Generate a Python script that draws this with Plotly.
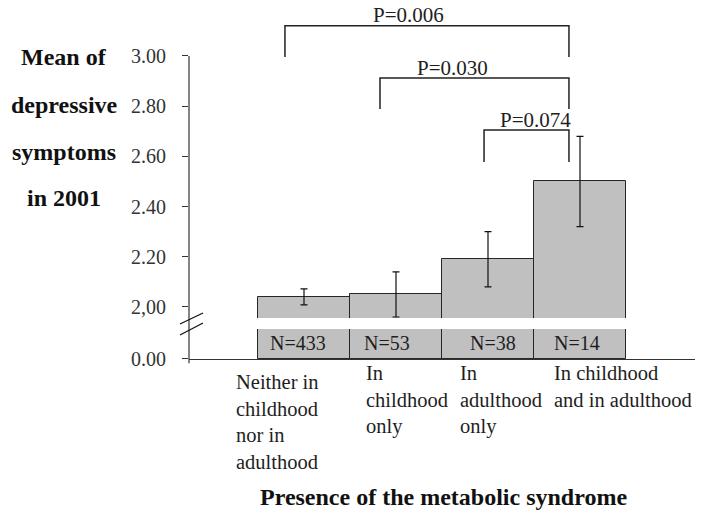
import plotly.graph_objects as go

# ---------------- data ----------------
categories = ["Neither in<br>childhood<br>nor in<br>adulthood",
              "In<br>childhood<br>only",
              "In<br>adulthood<br>only",
              "In childhood<br>and in adulthood"]
means = [2.04, 2.05, 2.19, 2.50]
errors = [0.032, 0.09, 0.11, 0.18]
n_labels = ["N=433", "N=53", "N=38", "N=14"]
tick_vals = [2.0, 2.2, 2.4, 2.6, 2.8, 3.0]
tick_text = ["2,00", "2.20", "2.40", "2.60", "2.80", "3.00"]
# comparisons: (from category, to category, p-value text)
comparisons = [(0, 3, "P=0.006"), (1, 3, "P=0.030"), (2, 3, "P=0.074")]

# ---------------- layout constants ----------------
FONT = "Liberation Serif"
TXT = "#1e1e1e"
BAR_FILL = "#c0c0c0"
BAR_LINE = "#262626"
X_RANGE = [-1.25, 4.25]
UP_RANGE = [1.956, 3.203]
UP_DOMAIN = [0.1158, 1.0]
LOW_RANGE = [0, 1]
LOW_DOMAIN = [0.0, 0.0847]

x = list(range(len(means)))

fig = go.Figure()
# upper panel bars (clipped at broken axis)
fig.add_trace(go.Bar(
    x=x, y=means, width=1.0, xaxis="x", yaxis="y",
    marker=dict(color=BAR_FILL, line=dict(color=BAR_LINE, width=1)),
    error_y=dict(type="data", array=errors, visible=True, color="#111111",
                 thickness=1.2, width=3.5),
    showlegend=False, hoverinfo="skip"))
# lower panel bars (stubs)
fig.add_trace(go.Bar(
    x=x, y=means, width=1.0, xaxis="x2", yaxis="y2",
    marker=dict(color=BAR_FILL, line=dict(color=BAR_LINE, width=1)),
    showlegend=False, hoverinfo="skip"))

shapes = []
annotations = []

def up_to_paper(v):
    return UP_DOMAIN[0] + (v - UP_RANGE[0]) / (UP_RANGE[1] - UP_RANGE[0]) * (UP_DOMAIN[1] - UP_DOMAIN[0])

# y axis line (continuous through the break, stops at 3.00)
shapes.append(dict(type="line", xref="x domain", yref="paper", x0=0, x1=0,
                   y0=-0.012, y1=up_to_paper(3.0),
                   line=dict(color="#333333", width=1.2)))
# break marks
for (ya, yb) in [(0.0989, 0.130), (0.0678, 0.1017)]:
    shapes.append(dict(type="line", xref="x domain", yref="paper",
                       x0=-0.0178, x1=0.0277, y0=ya, y1=yb,
                       line=dict(color="#111111", width=1.3)))

# significance brackets
bracket_top = [3.12, 2.912, 2.705]
bracket_leg = [2.996, 2.789, 2.578]
bracket_text_y = [3.165, 2.952, 2.745]
left_off = [-0.207, -0.174, -0.043]
right_off = -0.12
for k, (a, b, p) in enumerate(comparisons):
    xl = a + left_off[k]
    xr = b + right_off
    shapes.append(dict(type="path", xref="x", yref="y",
                       path=f"M {xl},{bracket_leg[k]} L {xl},{bracket_top[k]} L {xr},{bracket_top[k]} L {xr},{bracket_leg[k]}",
                       line=dict(color="#222222", width=1.5)))
tx_center = [1.14, 1.61, 2.52]
for k, (a, b, p) in enumerate(comparisons):
    annotations.append(dict(x=tx_center[k], y=bracket_text_y[k], xref="x", yref="y",
                            text=p, showarrow=False, xanchor="center", yanchor="middle",
                            font=dict(family=FONT, size=21, color=TXT)))

# N labels in the stub bars
n_off = [-0.065, -0.098, 0.054, -0.033]
for i, t in enumerate(n_labels):
    annotations.append(dict(x=i + n_off[i], y=0.55, xref="x2", yref="y2", text=t,
                            showarrow=False, xanchor="center", yanchor="middle",
                            font=dict(family=FONT, size=20, color=TXT)))

# category labels
cat_off = [-0.76, -0.35, -0.33, -0.30]
cat_top = [-0.028, -0.003, -0.003, -0.003]
for i, c in enumerate(categories):
    annotations.append(dict(x=i + cat_off[i], y=cat_top[i], xref="x2", yref="paper",
                            text=c, showarrow=False, xanchor="left", yanchor="top",
                            align="left",
                            font=dict(family=FONT, size=20.5, color=TXT)))

# y title lines
ytitle = ["Mean of", "depressive", "symptoms", "in 2001"]
ytitle_y = [0.853, 0.717, 0.585, 0.455]
for t, yy in zip(ytitle, ytitle_y):
    annotations.append(dict(x=-0.247, y=yy, xref="paper", yref="paper", text=f"<b>{t}</b>",
                            showarrow=False, xanchor="center", yanchor="middle",
                            font=dict(family=FONT, size=24, color="#111111")))
# x title
annotations.append(dict(x=0.502, y=-0.39, xref="paper", yref="paper",
                        text="<b>Presence of the metabolic syndrome</b>",
                        showarrow=False, xanchor="center", yanchor="middle",
                        font=dict(family=FONT, size=24, color="#111111")))

fig.update_layout(
    width=706, height=516,
    margin=dict(l=189, r=11, t=5, b=157, autoexpand=False),
    paper_bgcolor="white", plot_bgcolor="white",
    bargap=0,
    xaxis=dict(range=X_RANGE, anchor="y", visible=False, fixedrange=True),
    yaxis=dict(range=UP_RANGE, domain=UP_DOMAIN, anchor="x",
               tickvals=tick_vals, ticktext=tick_text, ticks="outside",
               ticklen=6, tickwidth=1, tickcolor="#333333", ticklabelstandoff=12,
               showline=False, showgrid=False, zeroline=False, automargin=False,
               tickfont=dict(family=FONT, size=20, color="#333333")),
    xaxis2=dict(range=X_RANGE, anchor="y2", showline=True, linecolor="#333333",
                linewidth=1.2, showgrid=False, zeroline=False,
                tickvals=[4.24], ticks="inside", ticklen=7, tickcolor="#333333",
                showticklabels=False, automargin=False),
    yaxis2=dict(range=LOW_RANGE, domain=LOW_DOMAIN, anchor="x2",
                tickvals=[0], ticktext=["0.00"], ticks="outside", ticklen=6,
                ticklabelstandoff=12, automargin=False,
                tickcolor="#333333", showline=False, showgrid=False, zeroline=False,
                tickfont=dict(family=FONT, size=20, color="#333333")),
    shapes=shapes, annotations=annotations,
)

fig.write_html("out.html",
               config={"displayModeBar": False},
               post_script="document.body.style.margin='0';document.body.style.overflow='hidden';")
